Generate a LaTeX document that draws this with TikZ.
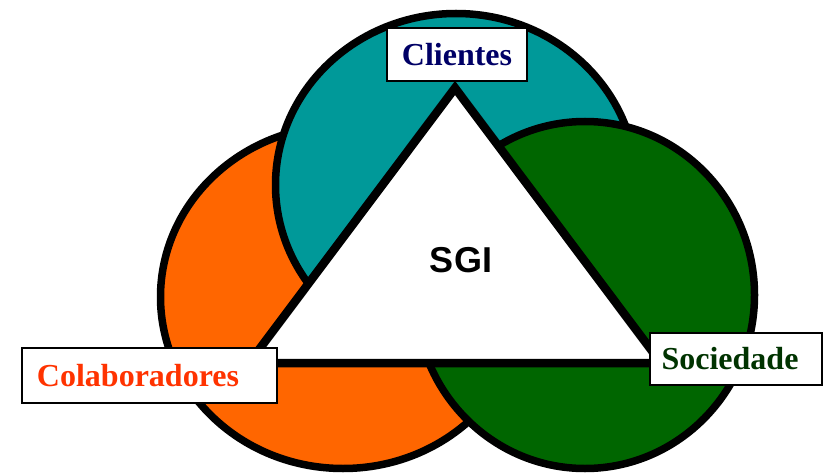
\documentclass[tikz,border=0pt]{standalone}
\usepackage{fontspec}
\setmainfont{Liberation Serif}
\newfontfamily\sgifont{Liberation Sans}
\definecolor{orangeC}{HTML}{FF6600}
\definecolor{tealC}{HTML}{009999}
\definecolor{greenC}{HTML}{006600}
\definecolor{navyT}{HTML}{000066}
\definecolor{redT}{HTML}{FF3300}
\definecolor{greenT}{HTML}{003300}
\begin{document}
\begin{tikzpicture}[x=1pt,y=-1pt,
  ring/.style={draw=black,line width=7.5pt},
  tri/.style={draw=black,fill=white,line width=8.5pt,line join=miter},
  labelbox/.style={draw=black,fill=white,line width=2.5pt,inner sep=0pt},
  labeltext/.style={inner sep=0pt,font=\fontsize{32}{38}\selectfont\bfseries}]
\useasboundingbox (0,0) rectangle (829,473);
\fill[white] (0,0) rectangle (829,473);
\draw[ring,fill=orangeC] (343,297) ellipse [x radius=182.5pt, y radius=171.5pt];
\draw[ring,fill=tealC] (456,185) ellipse [x radius=180.5pt, y radius=171.5pt];
\draw[ring,fill=greenC] (585,295) ellipse [x radius=169.5pt, y radius=173.5pt];
\coordinate (top) at (455,88);
\coordinate (bl) at (249,363);
\coordinate (br) at (661,363);
\draw[tri] (top) -- (bl) -- (br) -- cycle;
\node[font=\sgifont\bfseries\fontsize{36}{40}\selectfont] (sgi) at (461,260) {SGI};
\node[labelbox,minimum width=140pt,minimum height=53pt] (clibox) at (457,54.5) {};
\node[labeltext,text=navyT] (cli) at (457,54.5) {Clientes};
\node[labelbox,minimum width=255pt,minimum height=55pt] (colbox) at (149.5,375.5) {};
\node[labeltext,text=redT] (col) at (138,375.5) {Colaboradores};
\node[labelbox,minimum width=172pt,minimum height=52pt] (socbox) at (736,359) {};
\node[labeltext,text=greenT] (soc) at (730,359) {Sociedade};
\end{tikzpicture}
\end{document}
